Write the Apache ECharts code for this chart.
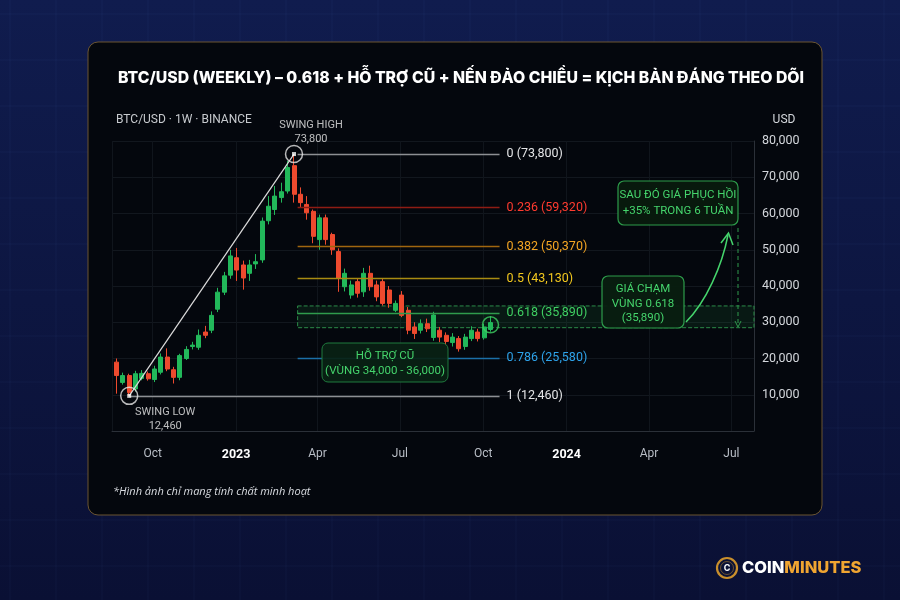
<!DOCTYPE html>
<html>
<head>
<meta charset="utf-8">
<title>BTC/USD weekly fib</title>
<script src="https://cdn.jsdelivr.net/npm/echarts@6/dist/echarts.min.js"></script>
<style>
html,body{margin:0;padding:0;background:#0c1440;}
#chart{width:900px;height:600px;}
</style>
</head>
<body>
<div id="chart"></div>
<script>
// weekly candles (week start)
var weeks = [
  '2022-08-22','2022-08-29','2022-09-05','2022-09-12','2022-09-19','2022-09-26','2022-10-03','2022-10-10','2022-10-17','2022-10-24',
  '2022-10-31','2022-11-07','2022-11-14','2022-11-21','2022-11-28','2022-12-05','2022-12-12','2022-12-19','2022-12-26','2023-01-02',
  '2023-01-09','2023-01-16','2023-01-23','2023-01-30','2023-02-06','2023-02-13','2023-02-20','2023-02-27','2023-03-06','2023-03-13',
  '2023-03-20','2023-03-27','2023-04-03','2023-04-10','2023-04-17','2023-04-24','2023-05-01','2023-05-08','2023-05-15','2023-05-22',
  '2023-05-29','2023-06-05','2023-06-12','2023-06-19','2023-06-26','2023-07-03','2023-07-10','2023-07-17','2023-07-24','2023-07-31',
  '2023-08-07','2023-08-14','2023-08-21','2023-08-28','2023-09-04','2023-09-11','2023-09-18','2023-09-25','2023-10-02','2023-10-09'
];
var opens = [
  19000,13400,15300,11600,14500,15800,14200,16200,20400,16900,
  14800,20000,23300,23100,27300,27800,33600,38300,43000,47800,
  45800,43500,46100,47200,58000,61100,64400,66200,73200,65300,
  62500,60600,52800,58800,54200,49500,39800,37500,41200,38400,
  43500,40300,41200,38900,33300,37500,33300,28700,27800,29600,
  25800,27800,26400,24400,25500,23300,25500,27300,25700,28000
];
var closes = [
  15300,15300,10600,15800,15900,14400,17100,20400,17100,14800,
  20800,22500,23700,26400,26400,31900,38300,42800,48300,44400,
  42200,45800,46700,57900,62000,64800,66000,72700,65300,63000,
  60200,53700,58800,52800,50000,42100,43500,40300,38000,43500,
  39800,37000,35200,35200,35200,31900,27800,26900,29600,28200,
  32000,25900,24700,25900,22700,25900,27800,25500,28700,29900
];
var lows = [
  10300,12800,9700,10900,14000,13900,13500,15600,16500,13100,
  14000,19600,22500,22400,25600,27000,32800,37500,42000,41400,
  39000,41400,44700,46400,57000,59600,63000,65500,63000,61700,
  58300,51800,50000,51400,48600,38400,38500,36500,36800,37000,
  38700,35800,34600,34000,32800,31400,26700,25400,26900,27300,
  24900,24500,23600,23300,21900,22400,24800,24700,25200,27400
];
var highs = [
  20000,16100,15800,16600,16800,16400,18000,21400,22800,17700,
  21300,23400,24600,28000,29000,33000,39500,43900,50000,50500,
  47000,47200,48800,58900,64800,67600,68500,74500,76400,67200,
  64800,61100,59700,59700,54700,50400,44800,41500,42000,45000,
  45600,41500,42200,40000,36000,38600,34200,30000,30800,31000,
  32900,28700,27200,27000,26200,26800,28900,28200,29600,31600
];

// fibonacci levels: ratio, price written in the label, and where the line sits on the price axis
var fibRatios = ['0', '0.236', '0.382', '0.5', '0.618', '0.786', '1'];
var fibPriceText = ['73,800', '59,320', '50,370', '43,130', '35,890', '25,580', '12,460'];
var fibLevels = [76400, 61600, 50900, 42100, 32600, 20200, 9700];
var zoneBand = [28500, 34500];

var swingLow = ['2022-09-05', 9700];
var swingHigh = ['2023-03-06', 76400];
var fibStart = '2023-03-10';
var fibEnd = '2023-10-19';
var touchPoint = ['2023-10-09', 29300];

var monthNames = ['Jan','Feb','Mar','Apr','May','Jun','Jul','Aug','Sep','Oct','Nov','Dec'];

var fibLineColors = ['#8d8f93', '#8e1c14', '#a0660f', '#a88b12', '#2f9c4c', '#1b6fa8', '#8d8f93'];
var fibTextColors = ['#e3e4e6', '#ff3b2f', '#f5a623', '#f2c71e', '#3fcf62', '#2ea3ea', '#e3e4e6'];

var myChart = echarts.init(document.getElementById('chart'));

var candles = weeks.map(function (d, i) {
  return [d, opens[i], closes[i], lows[i], highs[i]];
});

var fibLines = fibLevels.map(function (lv, i) {
  var start = i === fibLevels.length - 1 ? swingLow[0] : fibStart;
  return [
    {
      coord: [start, lv],
      lineStyle: { color: fibLineColors[i], width: 1.4, type: 'solid' },
      label: {
        show: true, position: 'end', distance: 7,
        formatter: fibRatios[i] + ' (' + fibPriceText[i] + ')',
        color: fibTextColors[i], fontSize: 12.5, fontFamily: 'Roboto'
      }
    },
    { coord: [fibEnd, lv] }
  ];
});

// decorative background grid outside the card
var bgGrid = [];
for (var gx = 10; gx < 900; gx += 46) {
  bgGrid.push({ type: 'line', z: -20, silent: true, shape: { x1: gx, y1: 0, x2: gx, y2: 600 }, style: { stroke: 'rgba(120,150,255,0.05)', lineWidth: 1 } });
}
for (var gy = 14; gy < 600; gy += 46) {
  bgGrid.push({ type: 'line', z: -20, silent: true, shape: { x1: 0, y1: gy, x2: 900, y2: gy }, style: { stroke: 'rgba(120,150,255,0.05)', lineWidth: 1 } });
}

var green = '#45d46c';
function boxText(x, y, txt) {
  return { type: 'text', z: 101, x: x, y: y, style: { text: txt, fill: green, fontSize: 11.5, fontFamily: 'Roboto', align: 'center', verticalAlign: 'middle' } };
}

var option = {
  backgroundColor: {
    type: 'linear', x: 0, y: 0, x2: 0, y2: 1,
    colorStops: [{ offset: 0, color: '#101c4e' }, { offset: 1, color: '#0a1034' }]
  },
  animation: false,
  grid: { left: 112, right: 146, top: 141, bottom: 169 },
  xAxis: {
    type: 'time',
    min: '2022-08-17',
    max: '2024-07-26',
    offset: 8,
    splitNumber: 6,
    axisLine: { show: true, lineStyle: { color: '#2b3038' } },
    axisTick: { show: false },
    splitLine: { show: true, lineStyle: { color: '#10151c' } },
    axisLabel: {
      margin: 9,
      hideOverlap: false,
      formatter: function (val) {
        var d = new Date(val);
        if (d.getMonth() === 0) return '{y|' + d.getFullYear() + '}';
        return '{m|' + monthNames[d.getMonth()] + '}';
      },
      rich: {
        m: { color: '#b9bec6', fontSize: 12, fontFamily: 'Roboto' },
        y: { color: '#ffffff', fontSize: 12.5, fontWeight: 'bold', fontFamily: 'Roboto' }
      }
    }
  },
  yAxis: {
    type: 'value',
    position: 'right',
    min: 0,
    max: 80000,
    interval: 10000,
    axisLine: { show: true, lineStyle: { color: '#2b3038' } },
    axisTick: { show: false },
    splitLine: { show: true, lineStyle: { color: '#12171e' } },
    axisLabel: {
      margin: 8,
      color: '#d4d7dc',
      fontSize: 12.5,
      fontFamily: 'Roboto',
      formatter: function (v) { return v === 0 ? '' : v.toLocaleString('en-US'); }
    }
  },
  series: [
    {
      name: 'fib',
      type: 'line',
      data: [],
      z: 1,
      silent: true,
      markLine: { silent: true, symbol: ['none', 'none'], data: fibLines },
      markArea: {
        silent: true,
        itemStyle: { color: 'rgba(40,150,70,0.13)', borderColor: '#2c8c49', borderWidth: 1, borderType: 'dashed' },
        data: [[{ coord: [fibStart, zoneBand[1]] }, { coord: ['2024-07-26', zoneBand[0]] }]]
      }
    },
    {
      name: 'BTC/USD',
      type: 'candlestick',
      z: 3,
      barWidth: 4.5,
      data: candles,
      encode: { x: 0, y: [1, 2, 3, 4] },
      itemStyle: {
        color: '#22b85a', color0: '#ee4a2e',
        borderColor: '#22b85a', borderColor0: '#ee4a2e', borderWidth: 1
      }
    },
    {
      name: 'swing',
      type: 'line',
      z: 5,
      symbol: 'none',
      data: [swingLow, swingHigh],
      lineStyle: { color: '#dcdcdc', width: 1.2 }
    },
    {
      name: 'points',
      type: 'scatter',
      z: 6,
      symbol: 'circle',
      symbolSize: 17,
      itemStyle: { color: 'rgba(0,0,0,0)', borderColor: '#e6e6e6', borderWidth: 1.5 },
      label: { color: '#e8e8e8', fontSize: 11, lineHeight: 14, fontFamily: 'Roboto', align: 'center' },
      data: [
        { value: swingLow, label: { show: true, position: 'bottom', distance: 0, offset: [36, 0], formatter: 'SWING LOW\n12,460' } },
        { value: swingHigh, label: { show: true, position: 'top', distance: 0, offset: [17, 1], formatter: 'SWING HIGH\n73,800' } },
        { value: touchPoint, itemStyle: { borderColor: '#3fcf62' }, symbolSize: 16 }
      ]
    },
    {
      name: 'dots',
      type: 'scatter',
      z: 7,
      symbol: 'rect',
      symbolSize: 4,
      itemStyle: { color: '#ffffff' },
      data: [swingLow, swingHigh]
    }
  ],
  graphic: bgGrid.concat([
    { type: 'rect', z: -10, silent: true, shape: { x: 88, y: 42, width: 734, height: 473, r: 10 },
      style: { fill: '#04070d', stroke: '#6b5531', lineWidth: 1 } },
    { type: 'text', z: 10, x: 461, y: 78,
      style: { text: 'BTC/USD (WEEKLY) – 0.618 + HỖ TRỢ CŨ + NẾN ĐẢO CHIỀU = KỊCH BẢN ĐÁNG THEO DÕI',
        fill: '#ffffff', fontSize: 15.8, fontWeight: 800, fontFamily: 'Inter', align: 'center', verticalAlign: 'middle' } },
    { type: 'text', z: 10, x: 116, y: 120,
      style: { text: 'BTC/USD · 1W · BINANCE', fill: '#c7cace', fontSize: 12, fontFamily: 'Roboto', verticalAlign: 'middle' } },
    { type: 'text', z: 10, x: 784, y: 120,
      style: { text: 'USD', fill: '#d4d7dc', fontSize: 12, fontFamily: 'Roboto', align: 'center', verticalAlign: 'middle' } },
    // old support box
    { type: 'rect', z: 100, shape: { x: 322, y: 343, width: 126, height: 39, r: 6 },
      style: { fill: 'rgba(9,34,19,0.92)', stroke: '#1f7a3e', lineWidth: 1 } },
    boxText(385, 356, 'HỖ TRỢ CŨ'),
    boxText(385, 371, '(VÙNG 34,000 - 36,000)'),
    // touch box
    { type: 'rect', z: 100, shape: { x: 602, y: 276, width: 82, height: 52, r: 6 },
      style: { fill: 'rgba(8,30,16,0.95)', stroke: '#2d9c4b', lineWidth: 1.2 } },
    boxText(643, 289, 'GIÁ CHẠM'),
    boxText(643, 304, 'VÙNG 0.618'),
    boxText(643, 318, '(35,890)'),
    // recovery box
    { type: 'rect', z: 100, shape: { x: 618, y: 181, width: 120, height: 44, r: 6 },
      style: { fill: 'rgba(8,26,14,0.95)', stroke: '#2d9c4b', lineWidth: 1.2 } },
    boxText(678, 195, 'SAU ĐÓ GIÁ PHỤC HỒI'),
    boxText(678, 211, '+35% TRONG 6 TUẦN'),
    // curved arrow
    { type: 'bezierCurve', z: 100, shape: { x1: 686, y1: 322, cpx1: 706, cpy1: 302, cpx2: 722, cpy2: 266, x2: 728, y2: 235 },
      style: { stroke: green, lineWidth: 1.5, fill: null } },
    { type: 'polyline', z: 100, shape: { points: [[721, 243], [728.5, 233], [733, 245]] },
      style: { stroke: green, lineWidth: 1.5, fill: null } },
    // vertical dashed measure
    { type: 'line', z: 100, shape: { x1: 738, y1: 228, x2: 738, y2: 325 },
      style: { stroke: '#2f9a4d', lineWidth: 1, lineDash: [4, 3] } },
    { type: 'polyline', z: 100, shape: { points: [[735, 321], [738, 327], [741, 321]] },
      style: { stroke: '#2f9a4d', lineWidth: 1, fill: null } },
    // footnote
    { type: 'text', z: 10, x: 113, y: 492,
      style: { text: '*Hình ảnh chỉ mang tính chất minh hoạt', fill: '#d9dce1', fontSize: 11, fontStyle: 'italic', fontFamily: 'Open Sans', verticalAlign: 'middle' } },
    // logo
    { type: 'circle', z: 10, shape: { cx: 727, cy: 568, r: 10 }, style: { fill: '#0b1236', stroke: '#c98f2c', lineWidth: 2.2 } },
    { type: 'circle', z: 10, shape: { cx: 727, cy: 568, r: 6.5 }, style: { fill: 'none', stroke: 'rgba(201,143,44,0.5)', lineWidth: 1 } },
    { type: 'text', z: 11, x: 727, y: 568,
      style: { text: 'C', fill: '#ffffff', fontSize: 9, fontWeight: 'bold', fontFamily: 'Inter', align: 'center', verticalAlign: 'middle' } },
    { type: 'text', z: 10, x: 742, y: 568,
      style: { text: '{a|COIN}{b|MINUTES}', verticalAlign: 'middle',
        rich: { a: { fill: '#ffffff', fontSize: 16.5, fontWeight: 800, fontFamily: 'Inter' },
                b: { fill: '#f0a531', fontSize: 16.5, fontWeight: 800, fontFamily: 'Inter' } } } }
  ])
};

myChart.setOption(option);
window.addEventListener('resize', function () { myChart.resize(); });
</script>
</body>
</html>
